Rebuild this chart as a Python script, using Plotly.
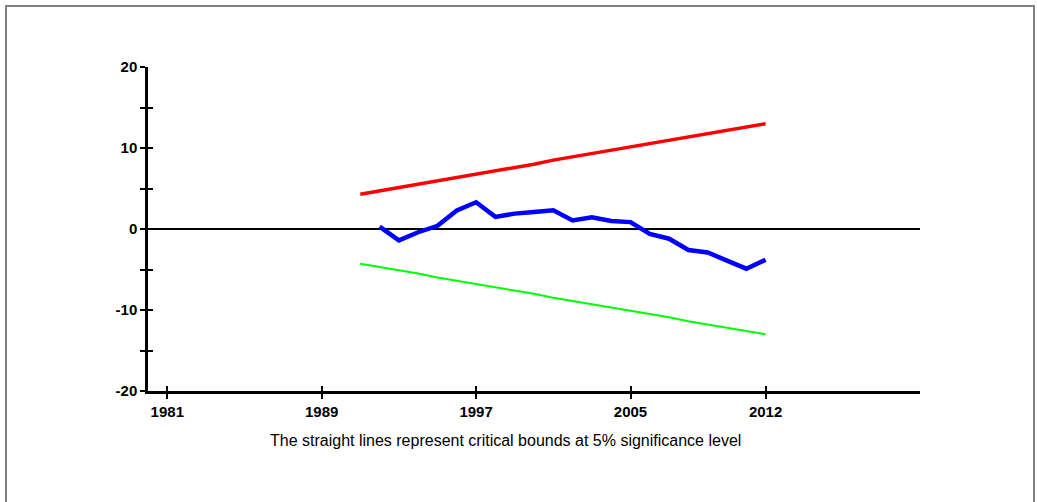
import plotly.graph_objects as go

# CUSUM statistic and 5% critical bounds
years_bound = [1991, 1992, 1993, 1994, 1995, 1996, 1997, 1998, 1999, 2000, 2001,
               2002, 2003, 2004, 2005, 2006, 2007, 2008, 2009, 2010, 2011, 2012]
upper_bound = [4.3, 4.7, 5.1, 5.5, 6.0, 6.4, 6.8, 7.2, 7.6, 8.0, 8.5,
               8.9, 9.3, 9.7, 10.1, 10.5, 10.9, 11.4, 11.8, 12.2, 12.6, 13.0]
lower_bound = [-4.3, -4.7, -5.1, -5.5, -6.0, -6.4, -6.8, -7.2, -7.6, -8.0, -8.5,
               -8.9, -9.3, -9.7, -10.1, -10.5, -10.9, -11.4, -11.8, -12.2, -12.6, -13.0]

years_cusum = [1992, 1993, 1994, 1995, 1996, 1997, 1998, 1999, 2000, 2001, 2002,
               2003, 2004, 2005, 2006, 2007, 2008, 2009, 2010, 2011, 2012]
cusum = [0.3, -1.4, -0.4, 0.4, 2.3, 3.3, 1.5, 1.9, 2.1, 2.3, 1.05,
         1.45, 1.0, 0.85, -0.6, -1.2, -2.6, -2.9, -3.9, -4.9, -3.8]

x_ticks = [1981, 1989, 1997, 2005, 2012]
y_ticks = [-20, -15, -10, -5, 0, 5, 10, 15, 20]
y_labels = ["-20", "", "-10", "", "0", "", "10", "", "20"]
caption = "The straight lines represent critical bounds at 5% significance level"

fig = go.Figure()
fig.add_trace(go.Scatter(x=years_bound, y=upper_bound, mode="lines",
                         line=dict(color="#ff0000", width=3.5), showlegend=False))
fig.add_trace(go.Scatter(x=years_bound, y=lower_bound, mode="lines",
                         line=dict(color="#00ff00", width=2), showlegend=False))
fig.add_trace(go.Scatter(x=years_cusum, y=cusum, mode="lines",
                         line=dict(color="#0000ff", width=4.5), showlegend=False))
# invisible trace so the overlay axes (inner tick halves) get drawn
fig.add_trace(go.Scatter(x=[1990], y=[0], xaxis="x2", yaxis="y2", mode="markers",
                         marker=dict(opacity=0), showlegend=False, hoverinfo="skip"))

tick_font = dict(family="Liberation Sans, Arial", size=15, color="black", weight="bold")

fig.update_layout(
    width=1037, height=502,
    margin=dict(l=148, r=117, t=67, b=111),
    paper_bgcolor="white", plot_bgcolor="white",
    xaxis=dict(range=[1980, 2020], tickvals=x_ticks, ticks="outside", ticklen=5,
               tickwidth=2, tickcolor="black", showline=True, linecolor="black",
               linewidth=2.5, showgrid=False, zeroline=False, tickfont=tick_font),
    yaxis=dict(range=[-20, 20], tickvals=y_ticks, ticktext=y_labels, ticks="outside",
               ticklen=5, tickwidth=2, tickcolor="black", showline=True,
               linecolor="black", linewidth=2.5, showgrid=False, zeroline=True,
               zerolinecolor="black", zerolinewidth=2, tickfont=tick_font),
    xaxis2=dict(overlaying="x", matches="x", tickvals=x_ticks, ticks="inside",
                ticklen=5, tickwidth=2, tickcolor="black", showticklabels=False,
                showgrid=False, zeroline=False, showline=False),
    yaxis2=dict(overlaying="y", matches="y", tickvals=y_ticks, ticks="inside",
                ticklen=5, tickwidth=2, tickcolor="black", showticklabels=False,
                showgrid=False, zeroline=False, showline=False),
    annotations=[dict(text=caption, xref="paper", yref="paper",
                      x=(505 - 148) / 772, y=(391 - 440) / 324,
                      xanchor="center", yanchor="middle", showarrow=False,
                      font=dict(family="Liberation Sans, Arial", size=16, color="black"))],
    shapes=[dict(type="rect", xref="paper", yref="paper",
                 x0=(6 - 148) / 772, x1=(1034 - 148) / 772,
                 y0=(391 - 520) / 324, y1=(391 - 6) / 324,
                 line=dict(color="#808080", width=2), layer="below")],
)

# drop the browser's default 8px body margin so the figure sits at the page origin
fig.write_html("out.html", config={"displayModeBar": False},
               post_script="document.body.style.margin='0';")
